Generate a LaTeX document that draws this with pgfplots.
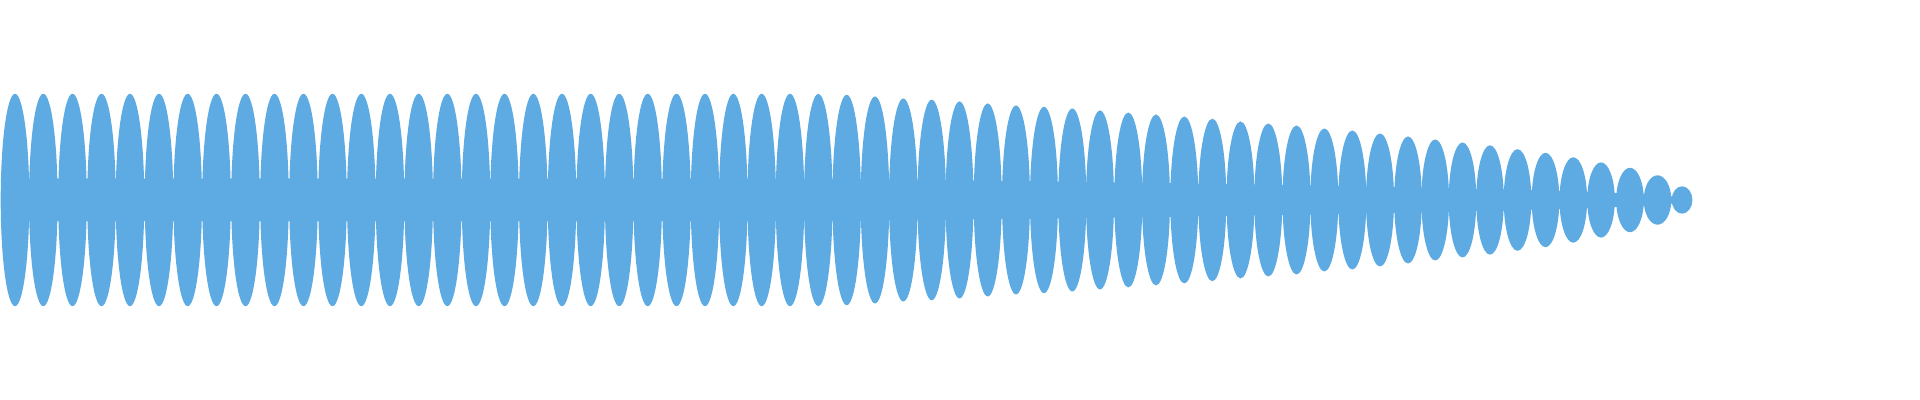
\documentclass[border=0pt]{standalone}
\usepackage{pgfplots}
\usepgfplotslibrary{fillbetween}
\pgfplotsset{compat=1.18}
\usepackage{pgfplotstable}

\definecolor{wave}{RGB}{93,171,226}

% one lobe: an ellipse, half width \lobeW, half height \lobeA (in pt)
\pgfdeclareplotmark{lobe}{%
  \pgfpathellipse{\pgfpointorigin}{\pgfpoint{\lobeW pt}{0pt}}{\pgfpoint{0pt}{\lobeA pt}}%
  \pgfusepathqfill}

% lobe centre, half height and half width, in pixels of the 1920x400 picture
\pgfplotstableread{
c       a      hw
15.0    106.2  14.3
43.3    106.2  14.3
72.5    106.2  14.3
101.5   106.2  14.3
130.0   106.2  14.3
159.0   106.2  14.3
187.7   106.2  14.3
216.5   106.2  14.3
245.5   106.2  14.3
274.5   106.2  14.3
303.5   106.2  14.3
332.5   106.2  14.3
361.3   106.2  14.3
390.0   106.2  14.3
418.7   106.2  14.3
447.3   106.2  14.3
476.0   106.2  14.3
504.5   106.2  14.3
533.3   106.2  14.3
562.0   106.2  14.3
590.7   106.2  14.3
619.2   106.2  14.3
647.7   106.2  14.3
676.5   106.2  14.3
705.0   106.2  14.3
733.3   106.2  14.3
761.7   106.2  14.3
790.0   106.2  14.3
818.3   106.0  14.3
846.7   105.2  14.3
875.0   103.5  14.3
903.3   101.5  14.3
931.7   100.3  14.3
959.5   98.5   14.0
987.7   96.5   14.0
1016.0  94.5   14.0
1044.0  93.2   14.0
1072.3  91.5   14.0
1100.0  89.5   14.0
1128.3  87.5   14.0
1156.0  85.5   14.0
1184.3  83.5   14.0
1212.3  81.3   14.0
1240.5  78.5   14.0
1268.3  76.5   14.0
1296.5  74.5   14.0
1324.3  71.5   14.0
1352.3  69.5   14.0
1380.0  66.5   14.0
1408.0  63.5   13.8
1435.2  60.5   13.8
1462.5  57.5   13.8
1490.0  54.7   13.8
1517.5  50.8   13.8
1545.5  47.2   13.8
1573.3  42.7   13.8
1601.0  37.6   13.8
1630.0  32.2   13.8
1657.5  24.7   13.8
1682.0  13.7   10.3
}\lobes

\begin{document}
\begin{tikzpicture}
\begin{axis}[
  scale only axis,
  width=19.2cm,
  height=4cm,
  xmin=0, xmax=1920,
  ymin=-200, ymax=200,
  axis line style={draw=none},
  ticks=none,
]
% thin band along the middle, seen between the lobes
\addplot[name path=up, draw=none] table[x=c, y expr=0.2*\thisrow{a}] {\lobes};
\addplot[name path=dn, draw=none] table[x=c, y expr=-0.2*\thisrow{a}] {\lobes};
\addplot[fill=wave, draw=none] fill between[of=up and dn];
% the lobes (1 unit = 0.01cm = 0.284528pt)
\addplot[only marks, mark=lobe, color=wave,
  visualization depends on={0.284528*\thisrow{a} \as \lobeA},
  visualization depends on={0.284528*\thisrow{hw} \as \lobeW}]
  table[x=c, y expr=0] {\lobes};
\end{axis}
\end{tikzpicture}
\end{document}
